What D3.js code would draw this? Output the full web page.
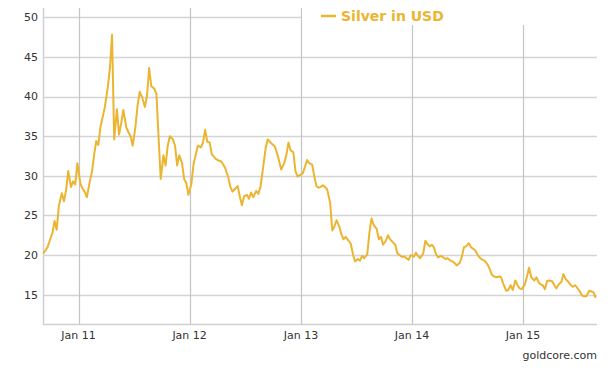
<!DOCTYPE html>
<html><head><meta charset="utf-8">
<script src="https://cdn.jsdelivr.net/npm/d3@7"></script>
<style>html,body{margin:0;padding:0;background:#fff;}svg{display:block;}</style>
</head><body>
<svg id="c" width="613" height="371"></svg>
<script>
// Months covered (weekly samples on day 7, 14, 21, 28 of each month)
const months = [
"2010-09","2010-10","2010-11","2010-12",
"2011-01","2011-02","2011-03","2011-04","2011-05","2011-06","2011-07","2011-08","2011-09","2011-10","2011-11","2011-12",
"2012-01","2012-02","2012-03","2012-04","2012-05","2012-06","2012-07","2012-08","2012-09","2012-10","2012-11","2012-12",
"2013-01","2013-02","2013-03","2013-04","2013-05","2013-06","2013-07","2013-08","2013-09","2013-10","2013-11","2013-12",
"2014-01","2014-02","2014-03","2014-04","2014-05","2014-06","2014-07","2014-08","2014-09","2014-10","2014-11","2014-12",
"2015-01","2015-02","2015-03","2015-04","2015-05","2015-06","2015-07","2015-08"];
const sampleDays = [7, 14, 21, 28];
// Silver price in USD, four readings per month
const silver = [
[20.2,20.6,21.0,21.8],[22.8,24.3,23.2,26.2],[27.8,26.8,28.2,30.6],[28.6,29.3,28.9,31.6],
[29.0,28.4,28.0,27.3],[29.3,30.5,32.6,34.4],[33.9,36.2,37.4,38.6],[41.2,43.6,47.8,34.6],
[38.4,35.2,36.6,38.3],[36.1,35.5,35.0,33.8],[36.2,38.9,40.6,40.0],[38.7,40.1,43.6,41.3],
[41.0,40.3,34.8,29.6],[32.6,31.3,33.8,35.0],[34.6,33.8,31.3,32.6],[31.6,29.6,29.1,27.6],
[29.0,31.5,32.6,33.8],[33.6,34.2,35.8,34.3],[34.2,32.7,32.4,32.1],[31.9,31.8,31.4,30.9],
[29.8,28.6,28.0,28.3],[28.7,27.4,26.3,27.4],[27.6,27.1,27.9,27.3],[28.1,27.7,28.6,30.6],
[33.5,34.6,34.3,34.0],[33.7,32.9,31.9,30.8],[31.6,32.6,34.2,33.2],[33.0,30.6,29.9,30.1],
[30.3,31.1,32.0,31.6],[31.4,29.9,28.7,28.5],[28.6,28.8,28.6,28.3],[26.6,23.1,23.6,24.4],
[23.6,22.6,22.0,22.3],[21.8,21.4,20.1,19.2],[19.5,19.3,19.9,19.6],[20.1,22.8,24.6,23.8],
[23.3,22.0,22.3,21.3],[21.8,22.5,22.0,21.7],[21.3,20.2,20.0,19.8],[19.8,19.6,19.4,20.0],
[19.8,20.3,19.9,19.6],[20.2,21.8,21.4,21.1],[21.3,21.0,20.1,19.7],[19.9,19.7,19.5,19.6],
[19.3,19.2,19.0,18.7],[19.0,19.8,21.0,21.1],[21.5,21.0,20.8,20.6],[19.9,19.6,19.4,19.3],
[18.8,18.2,17.5,17.3],[17.2,17.3,17.2,16.4],[15.5,15.6,16.2,15.6],[16.8,16.2,15.8,15.7],
[16.3,17.3,18.4,17.2],[16.8,17.2,16.6,16.3],[16.2,15.7,16.7,16.8],[16.7,16.2,15.8,16.3],
[16.6,17.6,17.0,16.7],[16.2,16.0,16.2,15.9],[15.4,14.9,14.8,14.8],[15.5,15.4,15.3,14.6]];
const yTicks = [15,20,25,30,35,40,45,50];
const xTickDates = ["2011-01-01","2012-01-01","2013-01-01","2014-01-01","2015-01-01"];
const xTickLabels = ["Jan 11","Jan 12","Jan 13","Jan 14","Jan 15"];
const seriesName = "Silver in USD";
const credit = "goldcore.com";

const parse = d3.timeParse("%Y-%m-%d");
const data = [];
months.forEach((m, i) => {
  silver[i].forEach((v, j) => {
    data.push({date: parse(m + "-" + String(sampleDays[j]).padStart(2, "0")), value: v});
  });
});

const L = 43, R = 597, T = 8, B = 324;
const x = d3.scaleTime().domain([parse("2010-09-06"), parse("2015-08-29")]).range([L, R - 1]);
const y = d3.scaleLinear().domain([15, 50]).range([294.7, 17.3]);

const svg = d3.select("#c");
const font = "'DejaVu Sans', Verdana, sans-serif";
const lineColor = "#EBB531";

// horizontal grid
svg.append("g").selectAll("line").data(yTicks).join("line")
  .attr("x1", L).attr("x2", R)
  .attr("y1", d => Math.round(y(d)) + 0.5).attr("y2", d => Math.round(y(d)) + 0.5)
  .attr("stroke", "#d4d4d4").attr("stroke-width", 1.5);

// vertical grid
const xt = xTickDates.map(parse);
svg.append("g").selectAll("line").data(xt).join("line")
  .attr("x1", d => Math.round(x(d)) + 0.5).attr("x2", d => Math.round(x(d)) + 0.5)
  .attr("y1", T).attr("y2", B)
  .attr("stroke", "#c4c4c4").attr("stroke-width", 1.2);

// axes frame
svg.append("line").attr("x1", L + 0.5).attr("x2", L + 0.5).attr("y1", T).attr("y2", B + 0.5)
  .attr("stroke", "#d0d0d0").attr("stroke-width", 1.5);
svg.append("line").attr("x1", L).attr("x2", R).attr("y1", B + 0.5).attr("y2", B + 0.5)
  .attr("stroke", "#d0d0d0").attr("stroke-width", 1.5);

// y labels
svg.append("g").selectAll("text").data(yTicks).join("text")
  .attr("x", 38).attr("y", d => y(d)).attr("dy", "0.35em")
  .attr("text-anchor", "end").attr("font-family", font).attr("font-size", 11).attr("fill", "#333")
  .text(d => d);

// x labels
svg.append("g").selectAll("text").data(xt).join("text")
  .attr("x", d => x(d)).attr("y", 335).attr("dy", "0.35em")
  .attr("text-anchor", "middle").attr("font-family", font).attr("font-size", 11).attr("fill", "#333")
  .text((d, i) => xTickLabels[i]);

// line
const line = d3.line().x(d => x(d.date)).y(d => y(d.value)).curve(d3.curveLinear);
svg.append("path").datum(data).attr("d", line)
  .attr("fill", "none").attr("stroke", lineColor).attr("stroke-width", 2)
  .attr("stroke-linejoin", "round");

// legend box (white, covers the grid)
svg.append("rect").attr("x", 302).attr("y", 0).attr("width", R - 302 + 2).attr("height", 25).attr("fill", "#fff");
svg.append("line").attr("x1", 321).attr("x2", 336).attr("y1", 16).attr("y2", 16)
  .attr("stroke", lineColor).attr("stroke-width", 2.5);
svg.append("text").attr("x", 341).attr("y", 16).attr("dy", "0.35em")
  .attr("font-family", font).attr("font-size", 14).attr("font-weight", "bold").attr("fill", lineColor)
  .text(seriesName);

// credit
svg.append("text").attr("x", 597).attr("y", 355).attr("dy", "0.35em")
  .attr("text-anchor", "end").attr("font-family", font).attr("font-size", 11).attr("fill", "#333")
  .text(credit);
</script>
</body></html>
